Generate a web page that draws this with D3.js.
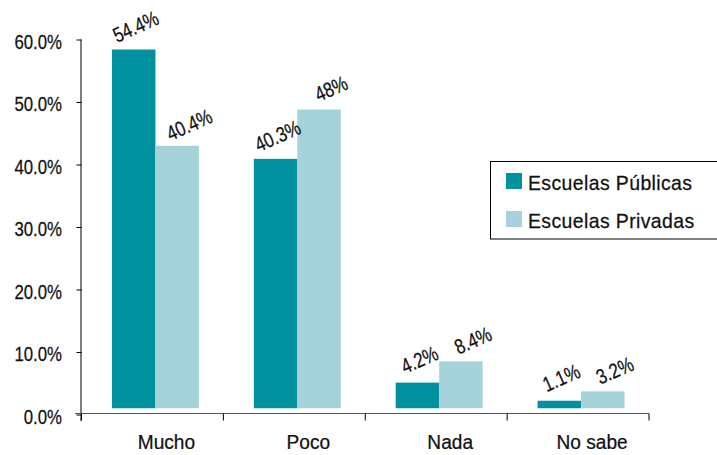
<!DOCTYPE html>
<html><head><meta charset="utf-8">
<script src="https://cdn.jsdelivr.net/npm/d3@7/dist/d3.min.js"></script>
<style>
html,body{margin:0;padding:0;background:#fff;}
text{font-family:"Liberation Sans","Arimo",Arial,sans-serif;fill:#111;stroke:#111;stroke-width:0.25px;}
</style></head>
<body><svg id="c" width="717" height="455"></svg>
<script>
const categories = ["Mucho","Poco","Nada","No sabe"];
const seriesNames = ["Escuelas Públicas","Escuelas Privadas"];
// bar tops as drawn in the picture (%), bars start at a raised base
const publicas = [58.4, 40.9, 5.1, 2.2];
const privadas = [43.0, 48.8, 8.5, 3.7];
const barBase = 1.0;
// printed data labels
const labelsPublicas = ["54.4%","40.3%","4.2%","1.1%"];
const labelsPrivadas = ["40.4%","48%","8.4%","3.2%"];
const yTicks = [0,10,20,30,40,50,60];

const colors = ["#00919e","#a6d3d9"];
const svg = d3.select("#c");
const x0 = d3.scaleBand().domain(categories).range([81.5,649]).paddingInner(0).paddingOuter(0);
const y = d3.scaleLinear().domain([0,60]).range([414.5,39.5]);
const groupW = 87;
const x1 = d3.scaleBand().domain(seriesNames).range([0,groupW]);
const series = [publicas, privadas];
const labels = [labelsPublicas, labelsPrivadas];
const labelOff = [[2,-23],[12,-21]];
const numScale = 0.8;

// bars
series.forEach((vals,si)=>{
  svg.append("g").selectAll("rect").data(vals).join("rect")
    .attr("x",(d,i)=>x0(categories[i]) + x0.bandwidth()/2 - groupW/2 + 3 + x1(seriesNames[si]))
    .attr("width",x1.bandwidth())
    .attr("y",d=>y(d))
    .attr("height",d=>y(barBase)-y(d))
    .attr("fill",colors[si]);
});

// y axis
const yAxis = d3.axisLeft(y).tickValues(yTicks).tickFormat(d=>d.toFixed(1)+"%").tickSize(5);
const gy = svg.append("g").attr("transform","translate(81.5,0)").call(yAxis);
gy.select(".domain").attr("stroke","#000").attr("d","M-0.5,39.5V421");
gy.selectAll(".tick line").attr("stroke","#000");
gy.selectAll(".tick text")
  .style("font-size","21px").attr("fill","#111")
  .attr("x",-19.5/numScale).attr("dy","0.42em")
  .attr("transform",`scale(${numScale},1)`);

// x axis
const gx = svg.append("g").attr("transform","translate(0,413.5)");
gx.append("line").attr("x1",75).attr("x2",649).attr("y1",0).attr("y2",0).attr("stroke","#555").attr("stroke-width",1.2);
const tickXs = [x0.range()[0]].concat(categories.map(c=>x0(c)+x0.bandwidth()));
gx.selectAll("line.t").data(tickXs).join("line").attr("class","t")
  .attr("x1",d=>d).attr("x2",d=>d).attr("y1",0).attr("y2",7).attr("stroke","#000");
gx.selectAll("text").data(categories).join("text")
  .attr("transform",d=>`translate(${x0(d)+x0.bandwidth()/2+14},35.5) scale(0.91,1)`)
  .attr("text-anchor","middle").style("font-size","21px").text(d=>d);

// data labels
series.forEach((vals,si)=>{
  svg.append("g").selectAll("text").data(vals).join("text")
    .attr("transform",(d,i)=>{
      const cx = x0(categories[i]) + x0.bandwidth()/2 - groupW/2 + 3 + x1(seriesNames[si]) + x1.bandwidth()/2 + labelOff[si][0];
      const cy = y(d) + labelOff[si][1];
      return `translate(${cx},${cy}) rotate(-24) scale(${numScale},1)`;
    })
    .attr("text-anchor","middle").attr("dy","0.35em")
    .style("font-size","21px").text((d,i)=>labels[si][i]);
});

// legend
const lg = svg.append("g");
lg.append("rect").attr("x",490.5).attr("y",161.5).attr("width",240).attr("height",77.5)
  .attr("fill","#fff").attr("stroke","#000").attr("stroke-width",1);
seriesNames.forEach((n,i)=>{
  lg.append("rect").attr("x",506).attr("y",173+i*38).attr("width",16).attr("height",16).attr("fill",colors[i]);
  lg.append("text").attr("transform",`translate(528,${189.5+i*38}) scale(0.95,1)`)
    .style("font-size","20.5px").style("letter-spacing","0.4px").text(n);
});
</script></body></html>
